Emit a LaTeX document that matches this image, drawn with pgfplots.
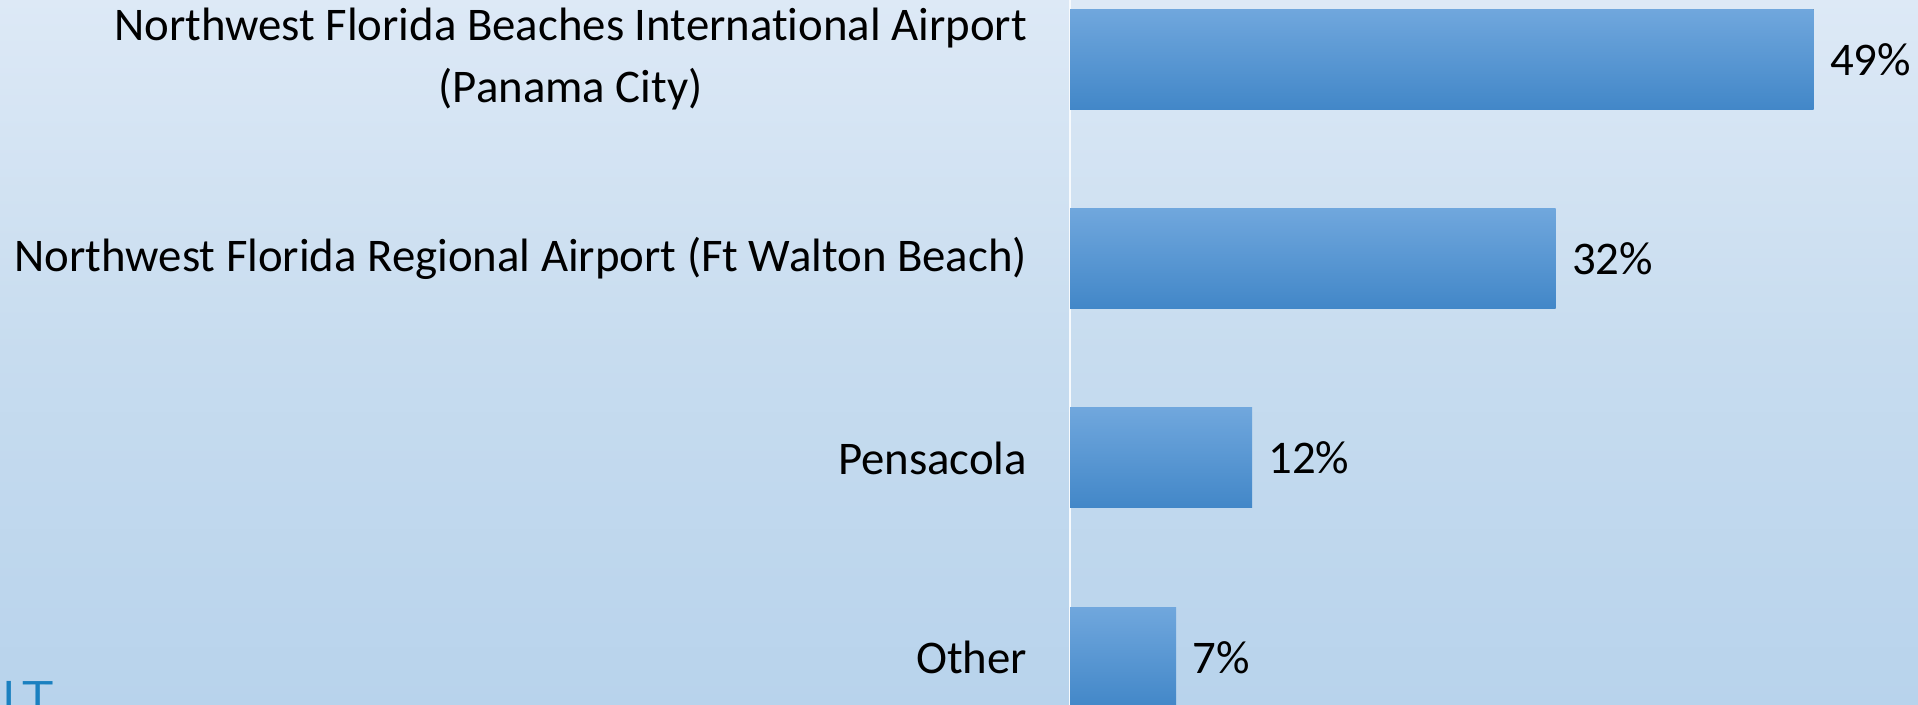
\documentclass[border=0pt]{standalone}
\usepackage{fontspec}
\setmainfont{Carlito}[Ligatures=NoCommon]
\usepackage{pgfplots}
\pgfplotsset{compat=1.18}
\definecolor{bgTop}{RGB}{221,233,246}
\definecolor{bgMid}{RGB}{199,220,239}
\definecolor{bgBot}{RGB}{184,211,236}
\definecolor{barTop}{RGB}{112,167,221}
\definecolor{barMid}{RGB}{84,155,221}
\definecolor{barBot}{RGB}{66,135,200}
\definecolor{itBlue}{RGB}{26,128,192}
\begin{document}
\begin{tikzpicture}
\useasboundingbox (0,0) rectangle (959bp,352.5bp);
\clip (0,0) rectangle (959bp,352.5bp);
\shade[top color=bgTop, bottom color=bgBot, middle color=bgMid] (0,0) rectangle (959bp,352.5bp);
\node[anchor=north west, inner sep=0pt, font=\sffamily\fontsize{26bp}{26bp}\selectfont, text=itBlue] at (1bp,12bp) {I\hspace{3bp}T};
\begin{axis}[
  at={(535bp,-26bp)}, anchor=south west,
  scale only axis,
  width=417.4bp, height=398.7bp,
  xbar, bar width=0.5017, bar shift=0pt,
  xmin=0, xmax=55,
  ymin=-0.5, ymax=3.5,
  axis x line=none,
  axis y line*=left,
  y axis line style={draw=white!85!bgMid, line width=1.2bp},
  ytick={0,1,2,3},
  yticklabels={Other, Pensacola, {Northwest Florida Regional Airport (Ft Walton Beach)}, {Northwest Florida Beaches International Airport\\(Panama City)}},
  ytick style={draw=none},
  yticklabel style={align=center, anchor=east, inner sep=0pt, xshift=-17bp, font=\fontsize{23.4bp}{31bp}\selectfont, text=black},
  /pgf/number format/assume math mode=true,
  nodes near coords={\pgfmathprintnumber[assume math mode=true]{\pgfplotspointmeta}\%},
  nodes near coords align={horizontal},
  every node near coord/.append style={anchor=west, inner sep=0pt, xshift=8bp, font=\fontsize{23.4bp}{31bp}\selectfont, text=black},
  every axis plot/.append style={draw=none, top color=barTop, middle color=barMid, bottom color=barBot},
]
\addplot coordinates {(7,0)};
\addplot coordinates {(12,1)};
\addplot coordinates {(32,2)};
\addplot coordinates {(49,3)};
\end{axis}
\end{tikzpicture}
\end{document}
